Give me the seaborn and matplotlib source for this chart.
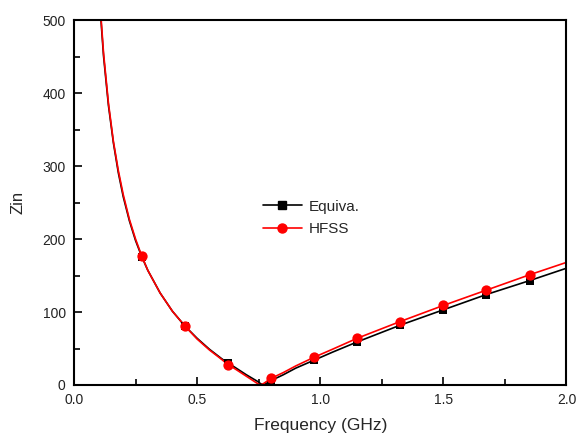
import numpy as np
import pandas as pd
import matplotlib
matplotlib.use("Agg")
import matplotlib.pyplot as plt
from matplotlib.lines import Line2D
from matplotlib.ticker import MultipleLocator
import seaborn as sns

# values
freq = [0.10, 0.12, 0.14, 0.16, 0.18, 0.20, 0.225, 0.25, 0.275, 0.30, 0.35,
        0.40, 0.45, 0.50, 0.55, 0.60, 0.625, 0.65, 0.70, 0.75, 0.757, 0.77,
        0.80, 0.85, 0.90, 0.975, 1.05, 1.15, 1.325, 1.50, 1.675, 1.85, 2.00]
zin_equiva = [545, 451, 383, 332, 291, 258, 225, 198, 176, 157, 126,
              101, 81, 64, 49, 36, 30, 25, 14, 4, 2, 0,
              6, 14, 23, 34, 45, 59, 82, 103, 124, 143, 160]
zin_hfss = [550, 455, 386, 334, 294, 261, 227, 200, 177, 157, 126,
            101, 81, 63, 48, 35, 28, 23, 12, 1, 0, 2,
            9, 17, 26, 38, 49, 64, 87, 109, 130, 151, 168]
marker_freq = [0.275, 0.45, 0.625, 0.80, 0.975, 1.15, 1.325, 1.50, 1.675, 1.85]

df = pd.DataFrame({"freq": freq, "Equiva.": zin_equiva, "HFSS": zin_hfss})
mk = df[df["freq"].isin(marker_freq)]

sns.set_theme(style="ticks")
plt.rcParams["font.family"] = ["Liberation Sans", "DejaVu Sans"]

fig = plt.figure(figsize=(5.78, 4.37), dpi=100)
ax = fig.add_axes([0.128, 0.119, 0.852, 0.835])

sns.lineplot(data=df, x="freq", y="Equiva.", color="black", lw=1.2, sort=False, ax=ax)
sns.scatterplot(data=mk, x="freq", y="Equiva.", color="black", marker="s", s=30,
                edgecolor="black", linewidth=0, ax=ax, zorder=3)
sns.lineplot(data=df, x="freq", y="HFSS", color="red", lw=1.2, sort=False, ax=ax)
sns.scatterplot(data=mk, x="freq", y="HFSS", color="red", marker="o", s=55,
                edgecolor="red", linewidth=0, ax=ax, zorder=4)

ax.set_xlim(0, 2.0)
ax.set_ylim(0, 500)
ax.xaxis.set_major_locator(MultipleLocator(0.5))
ax.xaxis.set_minor_locator(MultipleLocator(0.25))
ax.yaxis.set_major_locator(MultipleLocator(100))
ax.yaxis.set_minor_locator(MultipleLocator(50))
ax.xaxis.set_major_formatter(matplotlib.ticker.FormatStrFormatter("%.1f"))
ax.tick_params(which="both", direction="in", top=False, right=False,
               labelsize=10, width=1.2, color="black", labelcolor="#222222")
ax.tick_params(which="major", length=6, pad=6)
ax.tick_params(which="minor", length=4)
for sp in ax.spines.values():
    sp.set_linewidth(1.5)
    sp.set_color("black")

ax.set_xlabel("Frequency (GHz)", fontsize=12.5, labelpad=8)
ax.set_ylabel("Zin", fontsize=12, labelpad=12)

handles = [
    Line2D([], [], color="black", lw=1.2, marker="s", ms=5.5),
    Line2D([], [], color="red", lw=1.2, marker="o", ms=6.5),
]
ax.legend(handles, ["Equiva.", "HFSS"], loc="center left",
          bbox_to_anchor=(0.355, 0.458), frameon=False, fontsize=11,
          handlelength=2.6, handletextpad=0.4, labelspacing=0.55)

fig.savefig("out.png", dpi=100)
